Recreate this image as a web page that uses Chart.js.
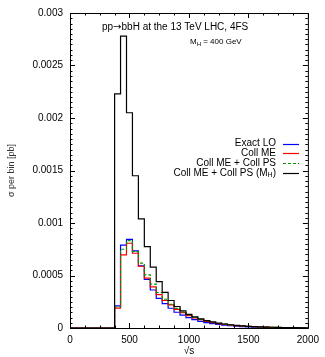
<!DOCTYPE html>
<html>
<head>
<meta charset="utf-8">
<script src="https://cdn.jsdelivr.net/npm/chart.js@4.4.0/dist/chart.umd.min.js"></script>
<style>
  html, body { margin: 0; padding: 0; background: #fff; }
  #wrap { width: 325px; height: 357px; position: relative; }
</style>
</head>
<body>
<div id="wrap"><canvas id="xsec_chart"></canvas></div>
<script>
// sqrt(s) bin centres, 50 GeV wide bins
const binCentres = [400, 450, 500, 550, 600, 650, 700, 750, 800, 850, 900, 950,
  1000, 1050, 1100, 1150, 1200, 1250, 1300, 1350, 1400, 1450, 1500, 1550,
  1600, 1650, 1700, 1750, 1800, 1850, 1900, 1950];
const binWidth = 50;

// sigma per bin [pb]
const exactLO = [0.00021, 0.00079, 0.000845, 0.000734, 0.000591, 0.000462, 0.000362, 0.000282,
  0.000232, 0.000188, 0.000150, 0.000122, 0.000098, 0.000079, 0.000064, 0.000052,
  0.000042, 0.000034, 0.000027, 0.000022, 0.000018, 0.000014, 0.000011, 0.0000090,
  0.0000072, 0.0000058, 0.0000046, 0.0000037, 0.0000030, 0.0000024, 0.0000019, 0.0000015];
const collME = [0.00019, 0.000696, 0.000807, 0.000712, 0.000588, 0.000475, 0.000392, 0.000318,
  0.000262, 0.000220, 0.000178, 0.000146, 0.000118, 0.000096, 0.000079, 0.000064,
  0.000052, 0.000042, 0.000034, 0.000028, 0.000023, 0.000018, 0.000015, 0.000012,
  0.0000095, 0.0000077, 0.0000062, 0.0000050, 0.0000040, 0.0000032, 0.0000026, 0.0000021];
const collMEPS = [0.00020, 0.00075, 0.000832, 0.000727, 0.000617, 0.000506, 0.000418, 0.000338,
  0.000274, 0.000226, 0.000186, 0.000152, 0.000124, 0.000101, 0.000083, 0.000068,
  0.000055, 0.000045, 0.000037, 0.000030, 0.000024, 0.000020, 0.000016, 0.000013,
  0.000010, 0.0000083, 0.0000067, 0.0000054, 0.0000043, 0.0000035, 0.0000028, 0.0000022];
const collMEPSmh = [0.00223, 0.00278, 0.00205, 0.00145, 0.00104, 0.000775, 0.000579, 0.000442,
  0.00034, 0.000262, 0.000205, 0.000164, 0.00013, 0.000106, 0.000087, 0.000071,
  0.000058, 0.000047, 0.000038, 0.000031, 0.000025, 0.000020, 0.000016, 0.000013,
  0.000011, 0.0000088, 0.0000071, 0.0000057, 0.0000046, 0.0000037, 0.000003, 0.0000024];

const xTicks = [0, 500, 1000, 1500, 2000];
const yTicks = [0, 0.0005, 0.001, 0.0015, 0.002, 0.0025, 0.003];

const FONT = "'Liberation Sans', Arial, Helvetica, sans-serif";

// turn per-bin values into step points (horizontal first, then vertical)
function histPoints(vals) {
  const pts = [{ x: 0, y: 0 }];
  vals.forEach((v, i) => pts.push({ x: binCentres[i] - binWidth / 2, y: v }));
  pts.push({ x: binCentres[binCentres.length - 1] + binWidth / 2, y: 0 });
  pts.push({ x: 2000, y: 0 });
  return pts;
}

const series = [
  { label: 'Exact LO', data: exactLO, color: 'rgb(0,0,255)', dash: [], order: 3 },
  { label: 'Coll ME', data: collME, color: 'rgb(255,0,0)', dash: [], order: 2 },
  { label: 'Coll ME + Coll PS', data: collMEPS, color: 'rgb(0,150,0)', dash: [3, 2], order: 1 },
  { label: 'Coll ME + Coll PS (M', sub: 'H', after: ')', data: collMEPSmh, color: 'rgb(0,0,0)', dash: [], order: 0 }
];

// draw a run of [text, font, dy] pieces left to right
function drawPieces(ctx, pieces, x, y) {
  pieces.forEach(([t, f, dy]) => {
    ctx.font = f;
    ctx.fillText(t, x, y + (dy || 0));
    x += ctx.measureText(t).width;
  });
}

// frame with inward ticks, text notes and the legend
const frameAndNotes = {
  id: 'frameAndNotes',
  afterDatasetsDraw(chart) {
    const { ctx, chartArea: a, scales } = chart;
    const xs = scales.x, ys = scales.y;
    ctx.save();
    ctx.strokeStyle = '#000';
    ctx.lineWidth = 1;
    ctx.setLineDash([]);
    ctx.strokeRect(a.left + 0.5, a.top + 0.5, a.right - a.left, a.bottom - a.top);

    ctx.beginPath();
    for (let v = 0; v <= 2000; v += 125) {
      const px = Math.round(xs.getPixelForValue(v)) + 0.5;
      const len = v % 500 === 0 ? 5 : 2.5;
      ctx.moveTo(px, a.bottom); ctx.lineTo(px, a.bottom - len);
      ctx.moveTo(px, a.top); ctx.lineTo(px, a.top + len);
    }
    for (let k = 0; k <= 60; k++) {
      const py = Math.round(ys.getPixelForValue(k * 0.00005)) + 0.5;
      const len = k % 10 === 0 ? 5 : 2.5;
      ctx.moveTo(a.left, py); ctx.lineTo(a.left + len, py);
      ctx.moveTo(a.right, py); ctx.lineTo(a.right - len, py);
    }
    ctx.stroke();

    // process label
    ctx.fillStyle = '#000';
    ctx.textBaseline = 'middle';
    ctx.textAlign = 'left';
    drawPieces(ctx, [
      ['pp', '10px ' + FONT],
      ['\u2192', "10px 'DejaVu Sans', sans-serif"],
      ['bbH at the 13 TeV LHC, 4FS', '10px ' + FONT]
    ], 102, 27);
    drawPieces(ctx, [
      ['M', '8px ' + FONT],
      ['H', '6px ' + FONT, 2],
      [' = 400 GeV', '8px ' + FONT]
    ], 190, 42);

    // legend: right-aligned text with sample line to the right
    const tx = 276, lx0 = 283, lx1 = 299;
    series.forEach((s, i) => {
      const y = 143.5 + i * 9.8;
      const pieces = [[s.label, '10px ' + FONT]];
      if (s.sub) {
        pieces.push([s.sub, '7px ' + FONT, 2.5]);
        pieces.push([s.after, '10px ' + FONT]);
      }
      let w = 0;
      pieces.forEach(([t, f]) => { ctx.font = f; w += ctx.measureText(t).width; });
      drawPieces(ctx, pieces, tx - w, y);
      ctx.beginPath();
      ctx.strokeStyle = s.color;
      ctx.lineWidth = 1.2;
      ctx.setLineDash(s.dash);
      ctx.moveTo(lx0, Math.round(y) + 0.5);
      ctx.lineTo(lx1, Math.round(y) + 0.5);
      ctx.stroke();
    });
    ctx.restore();
  }
};

const data = {
  datasets: series.map(s => ({
    label: s.label,
    data: histPoints(s.data),
    borderColor: s.color,
    borderWidth: 1.2,
    borderDash: s.dash,
    stepped: 'before',
    pointRadius: 0,
    fill: false,
    order: s.order
  }))
};

const config = {
  type: 'line',
  data: data,
  options: {
    responsive: true,
    maintainAspectRatio: false,
    animation: false,
    layout: { padding: { left: 0, right: 14, top: 12, bottom: 0 } },
    scales: {
      x: {
        type: 'linear',
        min: 0,
        max: 2000,
        grid: { display: false, drawTicks: false },
        border: { display: false },
        afterFit: scale => { scale.height = 29; },
        afterBuildTicks: scale => { scale.ticks = xTicks.map(v => ({ value: v })); },
        ticks: {
          color: '#000',
          padding: 6,
          maxRotation: 0,
          font: { family: FONT, size: 10 },
          callback: v => String(v)
        },
        title: {
          display: true,
          text: '\u221As',
          color: '#000',
          padding: { top: 0, bottom: 0 },
          font: { family: FONT, size: 10 }
        }
      },
      y: {
        type: 'linear',
        min: 0,
        max: 0.003,
        grid: { display: false, drawTicks: false },
        border: { display: false },
        afterFit: scale => { scale.width = 70; },
        afterBuildTicks: scale => { scale.ticks = yTicks.map(v => ({ value: v })); },
        ticks: {
          color: '#000',
          padding: 7,
          font: { family: FONT, size: 10 },
          callback: v => String(parseFloat(v.toFixed(4)))
        },
        title: {
          display: true,
          text: '\u03C3 per bin [pb]',
          color: '#333',
          padding: { top: 6, bottom: 0 },
          font: { family: FONT, size: 9 }
        }
      }
    },
    plugins: {
      legend: { display: false },
      tooltip: { enabled: false }
    }
  },
  plugins: [frameAndNotes]
};

var cv = document.getElementById('xsec_chart');
var chart = new Chart(cv.getContext('2d'), config);
</script>
</body>
</html>
